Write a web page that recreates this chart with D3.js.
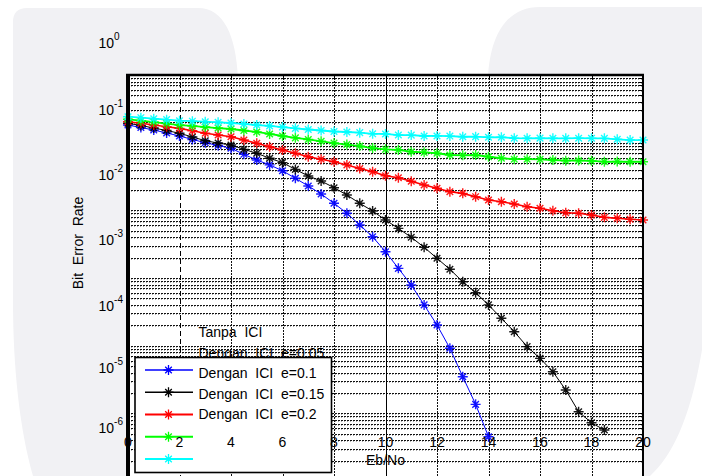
<!DOCTYPE html>
<html><head><meta charset="utf-8">
<script src="https://cdn.jsdelivr.net/npm/d3@7"></script>
<style>
html,body{margin:0;padding:0;background:#fff;}
svg{display:block;}
text{font-family:"Liberation Sans",Arial,Helvetica,sans-serif;white-space:pre;}
</style></head>
<body>
<svg id="chart" width="702" height="476"></svg>
<script>
// ---------- data ----------
const ebno = [0,0.5,1,1.5,2,2.5,3,3.5,4,4.5,5,5.5,6,6.5,7,7.5,8,8.5,9,9.5,10,10.5,11,11.5,12,12.5,13,13.5,14,14.5,15,15.5,16,16.5,17,17.5,18,18.5,19,19.5,20];
const berTanpa = [0.0587,0.0538,0.0492,0.0443,0.0398,0.0352,0.0314,0.0284,0.0258,0.0208,0.0170,0.0143,0.0116,0.00890,0.00678,0.00510,0.00367,0.00258,0.00170,0.00112,6.65e-4,3.72e-4,2.08e-4,1.04e-4,4.94e-5,2.08e-5,7.16e-6,2.48e-6,7.16e-7];
const berE005 = [0.0624,0.0578,0.0528,0.0484,0.0438,0.0385,0.0337,0.0310,0.0290,0.0248,0.0216,0.0181,0.0155,0.0122,0.00965,0.00809,0.00638,0.00492,0.00367,0.00279,0.00203,0.00151,0.00110,7.75e-4,5.28e-4,3.60e-4,2.33e-4,1.59e-4,1.04e-4,6.34e-5,3.85e-5,2.21e-5,1.43e-5,8.68e-6,4.30e-6,1.87e-6,1.22e-6,9.26e-7];
const berE01 = [0.0661,0.0624,0.0587,0.0553,0.0522,0.0479,0.0438,0.0412,0.0388,0.0345,0.0308,0.0272,0.0243,0.0216,0.0191,0.0175,0.0160,0.0143,0.0126,0.0112,0.00976,0.00909,0.00800,0.00702,0.00624,0.00553,0.00522,0.00464,0.00412,0.00388,0.00358,0.00325,0.00308,0.00282,0.00263,0.00258,0.00243,0.00223,0.00216,0.00208,0.00203];
const berE015 = [0.0719,0.0684,0.0653,0.0619,0.0587,0.0568,0.0547,0.0528,0.0510,0.0484,0.0459,0.0428,0.0398,0.0373,0.0352,0.0330,0.0310,0.0294,0.0279,0.0260,0.0248,0.0243,0.0228,0.0223,0.0216,0.0203,0.0201,0.0203,0.0191,0.0181,0.0175,0.0175,0.0174,0.0170,0.0166,0.0167,0.0165,0.0160,0.0161,0.0160,0.0160];
const berE02 = [0.0789,0.0762,0.0735,0.0710,0.0684,0.0673,0.0661,0.0647,0.0631,0.0610,0.0587,0.0568,0.0547,0.0522,0.0501,0.0484,0.0467,0.0459,0.0448,0.0430,0.0428,0.0412,0.0411,0.0398,0.0399,0.0397,0.0388,0.0389,0.0380,0.0381,0.0368,0.0367,0.0369,0.0367,0.0366,0.0368,0.0367,0.0366,0.0354,0.0345,0.0345];
const seriesColors = ["#0000ff","#000000","#ff0000","#00ff00","#00ffff"];
const seriesWidths = [1,1,1.6,1.8,1.8];
const legendTexts = ["Tanpa  ICI","Dengan  ICI  e=0.05","Dengan  ICI  e=0.1","Dengan  ICI  e=0.15","Dengan  ICI  e=0.2"];
const xTicks = [0,2,4,6,8,10,12,14,16,18,20];
const yTickExps = [0,-1,-2,-3,-4,-5,-6];
const xLabel = "Eb/No";
const yLabel = "Bit  Error  Rate";

const allSeries = [berTanpa, berE005, berE01, berE015, berE02];

// ---------- drawing ----------
const svg = d3.select("#chart");
const L = 128, R = 643, T = 75, B = 480;

svg.append("rect").attr("width",702).attr("height",476).attr("fill","#ffffff");
svg.append("path")
  .attr("d","M13,22 Q13,8 27,8 L198,8 C224,8 236,36 238,78 L488,78 C490,36 506,7 540,7 L702,7 L702,350 C690,420 672,456 650,476 L33,476 C20,430 13,370 13,300 Z")
  .attr("fill","#f1f1f4");

const x = d3.scaleLinear().domain([0,20]).range([L,R]);
const y = d3.scaleLog()
  .domain([1,1e-1,1e-2,1e-3,1e-4,1e-5,1e-6])
  .range([43,110,175,240,306,368,428]);
const yGrid = d3.scaleLog().domain([1e-7,1e-1]).range([481,T]);

svg.append("rect").attr("x",L).attr("y",T).attr("width",R-L).attr("height",B-T).attr("fill","#fff");

const grid = svg.append("g").attr("shape-rendering","crispEdges");
const gridVals = [];
for (let k=-7;k<=-2;k++) for (let m=1;m<=9;m++) gridVals.push(m*Math.pow(10,k));
gridVals.push(1e-1);
gridVals.forEach(v=>{
  const gy = Math.round(yGrid(v))+0.5;
  if (gy < T+1) return;
  grid.append("line").attr("x1",L).attr("x2",R).attr("y1",gy).attr("y2",gy)
    .attr("stroke","#111").attr("stroke-width",1).attr("stroke-dasharray","2,1");
  grid.append("line").attr("x1",L).attr("x2",R).attr("y1",gy+1).attr("y2",gy+1)
    .attr("stroke","#aaa").attr("stroke-width",1).attr("stroke-dasharray","1,2");
  grid.append("line").attr("x1",R-4).attr("x2",R).attr("y1",gy).attr("y2",gy)
    .attr("stroke","#000").attr("stroke-width",1);
});
xTicks.forEach(t=>{
  if (t===0 || t===20) return;
  const gx = Math.round(x(t))+0.5;
  let dash = "2,1", w = 1, col = "#111";
  if (t===2) { dash = "5,3"; col = "#000"; w = 1.3; }
  if (t===10) { dash = null; col = "#000"; w = 1.3; }
  const ln = grid.append("line").attr("x1",gx).attr("x2",gx).attr("y1",T).attr("y2",B)
    .attr("stroke",col).attr("stroke-width",w);
  if (dash) ln.attr("stroke-dasharray",dash);
  grid.append("line").attr("x1",gx).attr("x2",gx).attr("y1",T).attr("y2",T+4).attr("stroke","#000");
});

const line = d3.line().x((d,i)=>x(ebno[i])).y(d=>y(d));
function asterisk(px,py){
  return `M${px-5},${py}h10M${px},${py-5}v10M${px-3.3},${py-3.3}l6.6,6.6M${px-3.3},${py+3.3}l6.6,-6.6`;
}
allSeries.forEach((s,si)=>{
  const g = svg.append("g");
  g.append("path").attr("d",line(s)).attr("fill","none")
    .attr("stroke",seriesColors[si]).attr("stroke-width",seriesWidths[si]);
  g.append("path").attr("d",s.map((d,i)=>asterisk(x(ebno[i]),y(d))).join(""))
    .attr("fill","none").attr("stroke",seriesColors[si]).attr("stroke-width",1.4).attr("opacity",0.9);
});

svg.append("line").attr("x1",L).attr("x2",L).attr("y1",T-1).attr("y2",476).attr("stroke","#000").attr("stroke-width",4);
svg.append("line").attr("x1",L-2).attr("x2",R+1).attr("y1",T).attr("y2",T).attr("stroke","#000").attr("stroke-width",2.5);
svg.append("line").attr("x1",R).attr("x2",R).attr("y1",T-1).attr("y2",476).attr("stroke","#000").attr("stroke-width",2);

yTickExps.forEach(e=>{
  const ty = y(Math.pow(10,e));
  const t = svg.append("text").attr("x",98.5).attr("y",ty+5).attr("font-size",14).attr("fill","#000");
  t.append("tspan").text("10");
  t.append("tspan").attr("font-size",10).attr("dy",-8).text(String(e));
});
svg.append("text").attr("transform","translate(83,243) rotate(-90)").attr("text-anchor","middle")
  .attr("font-size",14).attr("fill","#000").text(yLabel);

const legTextY = d3.scaleLinear().domain([0,4]).range([332,414]);
const legLineY = d3.scaleLinear().domain([0,4]).range([370,459]);
function legText(i){
  svg.append("text").attr("x",198.5).attr("y",legTextY(i)+5).attr("font-size",14).attr("fill","#000").text(legendTexts[i]);
}
legText(0); legText(1);
svg.append("rect").attr("x",135).attr("y",357.5).attr("width",196.5).attr("height",115)
  .attr("fill","#fff").attr("stroke","#000").attr("stroke-width",1.6);
[2,3,4].forEach(legText);
allSeries.forEach((s,si)=>{
  const ly = legLineY(si);
  svg.append("line").attr("x1",145).attr("x2",193).attr("y1",ly).attr("y2",ly)
    .attr("stroke",seriesColors[si]).attr("stroke-width",seriesWidths[si]+0.3);
  svg.append("path").attr("d",asterisk(168.5,ly)).attr("fill","none")
    .attr("stroke",seriesColors[si]).attr("stroke-width",1.3);
});

xTicks.forEach(t=>{
  svg.append("text").attr("x",x(t)).attr("y",446.5).attr("text-anchor","middle")
    .attr("font-size",14).attr("fill","#000").text(String(t));
});
svg.append("text").attr("x",385.5).attr("y",465).attr("text-anchor","middle")
  .attr("font-size",14).attr("fill","#000").text(xLabel);
</script>
</body></html>
